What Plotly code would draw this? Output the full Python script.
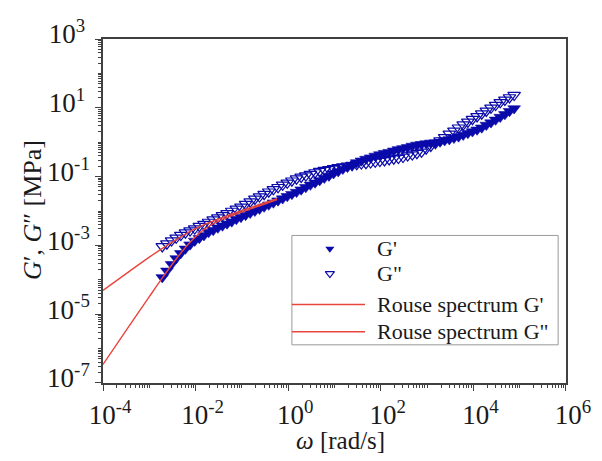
import plotly.graph_objects as go

# ---------------- data ----------------
# log10 of angular frequency [rad/s] of the measured points
omega_log = [-2.72, -2.62, -2.52, -2.42, -2.32, -2.22, -2.12, -2.02, -1.92, -1.82,
             -1.72, -1.62, -1.52, -1.42, -1.32, -1.22, -1.12, -1.02, -0.92, -0.82,
             -0.72, -0.62, -0.52, -0.42, -0.32, -0.22, -0.12, -0.02, 0.08, 0.18,
             0.28, 0.38, 0.48, 0.58, 0.68, 0.78, 0.88, 0.98, 1.08, 1.18,
             1.28, 1.38, 1.48, 1.58, 1.68, 1.78, 1.88, 1.98, 2.08, 2.18,
             2.28, 2.38, 2.48, 2.58, 2.68, 2.78, 2.88, 2.98, 3.08, 3.18,
             3.28, 3.38, 3.48, 3.58, 3.68, 3.78, 3.88, 3.98, 4.08, 4.18,
             4.28, 4.38, 4.48, 4.58, 4.68, 4.78, 4.88]
# log10 of G' [MPa]
g1_log = [-3.93, -3.74, -3.55, -3.38, -3.23, -3.10, -2.98, -2.87, -2.79, -2.71,
          -2.62, -2.56, -2.49, -2.43, -2.37, -2.31, -2.24, -2.18, -2.12, -2.06,
          -2.00, -1.94, -1.88, -1.82, -1.76, -1.70, -1.64, -1.57, -1.51, -1.45,
          -1.38, -1.31, -1.24, -1.18, -1.11, -1.04, -0.98, -0.91, -0.85, -0.78,
          -0.72, -0.66, -0.59, -0.54, -0.49, -0.45, -0.40, -0.36, -0.32, -0.29,
          -0.25, -0.21, -0.18, -0.15, -0.11, -0.08, -0.06, -0.04, -0.02, -0.01,
          0.01, 0.05, 0.08, 0.12, 0.16, 0.21, 0.26, 0.31, 0.36, 0.42,
          0.50, 0.57, 0.65, 0.73, 0.81, 0.90, 0.98]
# log10 of G'' [MPa]
g2_log = [-3.03, -2.95, -2.86, -2.78, -2.70, -2.63, -2.57, -2.51, -2.44, -2.38,
          -2.32, -2.25, -2.19, -2.13, -2.07, -2.00, -1.94, -1.88, -1.80, -1.73,
          -1.65, -1.58, -1.51, -1.44, -1.37, -1.31, -1.24, -1.18, -1.12, -1.06,
          -1.01, -0.97, -0.93, -0.88, -0.84, -0.81, -0.79, -0.76, -0.73, -0.71,
          -0.69, -0.67, -0.64, -0.62, -0.61, -0.59, -0.57, -0.55, -0.53, -0.50,
          -0.48, -0.46, -0.43, -0.39, -0.36, -0.32, -0.28, -0.19, -0.11, -0.03,
          0.05, 0.14, 0.24, 0.33, 0.42, 0.51, 0.59, 0.67, 0.75, 0.83,
          0.91, 1.00, 1.08, 1.16, 1.23, 1.30, 1.37]

# Rouse spectrum curves (log10 values)
rouse_omega_log = [-4.0, -3.5, -3.0, -2.7, -2.4, -2.1, -1.8, -1.5, -1.2, -0.9, -0.6, -0.24]
rouse_g1_log = [-6.46, -5.47, -4.49, -3.91, -3.36, -2.88, -2.52, -2.29, -2.13, -1.98, -1.84, -1.67]
rouse_g2_log = [-4.31, -3.82, -3.34, -3.07, -2.82, -2.58, -2.39, -2.23, -2.08, -1.94, -1.80, -1.64]

PAD = "\u00a0"  # pads positive exponents so the labels line up on the left
ytick_vals = [1e-7, 1e-5, 1e-3, 1e-1, 1e1, 1e3]
ytick_text = ["10<sup>-7</sup>", "10<sup>-5</sup>", "10<sup>-3</sup>", "10<sup>-1</sup>",
              "10<sup>1" + PAD + "</sup>", "10<sup>3" + PAD + "</sup>"]
xtick_vals = [1e-4, 1e-2, 1e0, 1e2, 1e4, 1e6]
xtick_text = ["10<sup>-4</sup>", "10<sup>-2</sup>", "10<sup>0</sup>", "10<sup>2</sup>",
              "10<sup>4</sup>", "10<sup>6</sup>"]

legend_labels = ["G'", 'G"', "Rouse spectrum G'", 'Rouse spectrum G"']
x_title = "<i>ω</i> [rad/s]"
y_title = "<i>G</i>′, <i>G</i>″ [MPa]"

# ---------------- styling ----------------
BLUE = "#0a0aaa"
RED = "#e8453c"
FONT = "Liberation Serif"

omega = [10 ** v for v in omega_log]
g1 = [10 ** v for v in g1_log]
g2 = [10 ** v for v in g2_log]
r_omega = [10 ** v for v in rouse_omega_log]
r_g1 = [10 ** v for v in rouse_g1_log]
r_g2 = [10 ** v for v in rouse_g2_log]

fig = go.Figure()
fig.add_trace(go.Scatter(x=omega, y=g1, mode="markers", name=legend_labels[0],
                         marker=dict(symbol="triangle-down", size=11, color=BLUE,
                                     line=dict(width=0.6, color=BLUE))))
fig.add_trace(go.Scatter(x=omega, y=g2, mode="markers", name=legend_labels[1],
                         marker=dict(symbol="triangle-down-open", size=11, color=BLUE,
                                     line=dict(width=1.2, color=BLUE))))
fig.add_trace(go.Scatter(x=r_omega, y=r_g1, mode="lines", name=legend_labels[2],
                         line=dict(color=RED, width=1.4, shape="spline")))
fig.add_trace(go.Scatter(x=r_omega, y=r_g2, mode="lines", name=legend_labels[3],
                         line=dict(color=RED, width=1.4, shape="spline")))

# ---- manual legend (box, symbols, lines, text) in plot-area fractions ----
lx0, lx1, ly0, ly1 = 0.408, 0.983, 0.111, 0.429
sym_x = 0.490
row_y = [0.390, 0.318, 0.228, 0.149]
line_x = [0.408, 0.566]
text_x = 0.588

shapes = [dict(type="rect", xref="x domain", yref="y domain", x0=lx0, x1=lx1, y0=ly0, y1=ly1,
               line=dict(color="#9a9a9a", width=1), fillcolor="white", layer="below")]
for yy in row_y[2:]:
    shapes.append(dict(type="line", xref="x domain", yref="y domain", x0=line_x[0], x1=line_x[1],
                       y0=yy, y1=yy, line=dict(color=RED, width=1.4), layer="above"))

fig.add_trace(go.Scatter(x=[sym_x], y=[row_y[0]], xaxis="x2", yaxis="y2", mode="markers",
                         showlegend=False, hoverinfo="skip",
                         marker=dict(symbol="triangle-down", size=8, color=BLUE)))
fig.add_trace(go.Scatter(x=[sym_x], y=[row_y[1]], xaxis="x2", yaxis="y2", mode="markers",
                         showlegend=False, hoverinfo="skip",
                         marker=dict(symbol="triangle-down-open", size=8, color=BLUE,
                                     line=dict(width=1.2, color=BLUE))))

annotations = []
for lab, yy in zip(legend_labels, row_y):
    annotations.append(dict(text=lab, xref="x domain", yref="y domain", x=text_x, y=yy,
                            xanchor="left", yanchor="middle", showarrow=False,
                            font=dict(family=FONT, size=22, color="#1a1a1a")))
# axis titles placed as text
annotations.append(dict(text=y_title, xref="paper", yref="paper", x=-0.151, y=0.503,
                        xanchor="center", yanchor="middle", textangle=-90, showarrow=False,
                        font=dict(family=FONT, size=26, color="#1a1a1a")))
annotations.append(dict(text=x_title, xref="paper", yref="paper", x=0.512, y=-0.168,
                        xanchor="center", yanchor="middle", showarrow=False,
                        font=dict(family=FONT, size=25, color="#1a1a1a")))

axis_common = dict(type="log", showgrid=False, zeroline=False, showline=True, linecolor="#404040",
                   linewidth=1.5, mirror=True, ticks="outside", ticklen=6, tickwidth=1,
                   tickcolor="#404040", ticklabeloverflow="allow",
                   tickfont=dict(family=FONT, size=27, color="#1a1a1a"))

# the page body adds an 8px offset, so the figure is 8px smaller and margins shifted
fig.update_layout(
    width=594, height=453,
    margin=dict(l=95, r=36, t=7, b=78),
    paper_bgcolor="white", plot_bgcolor="white",
    showlegend=False,
    font=dict(family=FONT, size=24, color="#1a1a1a"),
    xaxis=dict(**axis_common, range=[-4.0005, 6.0005], tickmode="array", tickvals=xtick_vals,
               ticktext=xtick_text, ticklabelstandoff=1, ticklabelshift=7,
               minor=dict(ticks="outside", ticklen=3, dtick="D1", tickcolor="#404040")),
    yaxis=dict(**axis_common, range=[-7.0005, 3.0005], tickmode="array", tickvals=ytick_vals,
               ticktext=ytick_text, ticklabelstandoff=0, ticklabelshift=-5,
               minor=dict(ticks="outside", ticklen=3, dtick="D1", tickcolor="#404040")),
    xaxis2=dict(overlaying="x", range=[0, 1], visible=False, anchor="y2"),
    yaxis2=dict(overlaying="y", range=[0, 1], visible=False, anchor="x2"),
    shapes=shapes,
    annotations=annotations,
)

fig.write_html("out.html")
